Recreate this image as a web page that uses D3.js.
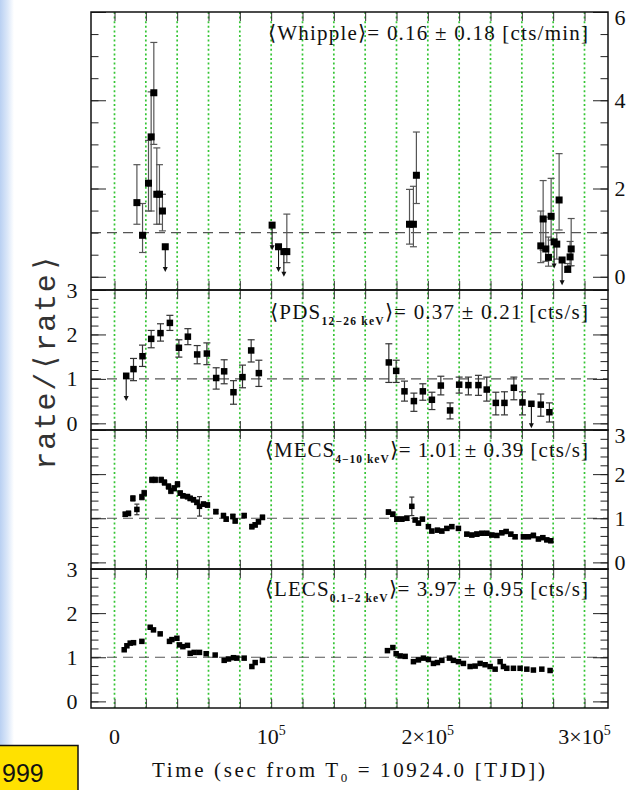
<!DOCTYPE html>
<html>
<head>
<meta charset="utf-8">
<script src="https://cdn.jsdelivr.net/npm/d3@7"></script>
<style>
  html, body { margin: 0; padding: 0; background: #fff; }
  svg { display: block; }
</style>
</head>
<body>
<svg id="chart" width="633" height="790"></svg>
<script>
// ---------------- data ----------------
// Whipple (>300 GeV) detections: time from T0 [s], rate/<rate>, lower and upper error-bar ends
const whippleTime = [14300, 17900, 21700, 23400, 25100, 27000, 28700, 30600, 110000,
  188300, 190800, 192700, 272100, 273600, 275300, 277000, 278700, 282300, 283800, 289300, 290800, 291500];
const whippleRate = [1.68, 0.94, 2.12, 3.17, 4.17, 1.87, 1.87, 1.49, 0.57,
  1.19, 1.19, 2.30, 0.70, 1.31, 0.63, 0.44, 1.37, 0.74, 1.74, 0.17, 0.45, 0.63];
const whippleLow = [1.19, 0.55, 1.49, 1.49, 3.00, 1.19, 1.19, 1.04, 0.32,
  0.74, 0.68, 1.66, 0.32, 0.60, 0.35, 0.24, 0.83, 0.40, 1.06, 0.10, 0.25, 0.25];
const whippleHigh = [2.54, 1.66, 3.09, 4.19, 5.31, 2.92, 2.54, 1.87, 1.42,
  1.98, 2.05, 3.28, 1.49, 2.18, 1.35, 0.90, 2.23, 1.00, 2.79, 0.30, 0.80, 1.32];
// Whipple upper limits: value and arrow tip
const whippleUlTime = [32400, 100600, 104700, 108100, 280600, 285700];
const whippleUlRate = [0.68, 1.17, 0.68, 0.57, 0.79, 0.38];
const whippleUlEnd  = [0.11, 0.60, 0.11, 0.00, 0.19, -0.19];

// BeppoSAX PDS 12-26 keV
const pdsTime = [12130, 17870, 23420, 29360, 35350, 41100, 46840, 52780, 58960, 64900,
  70000, 75940, 81700, 87240, 92150, 175100, 179800, 185100, 191100, 196800,
  202600, 208300, 214200, 220000, 225900, 232300, 237600, 243400, 248900, 254900,
  260400, 272100, 277600];
const pdsRate = [1.22, 1.51, 1.90, 2.03, 2.26, 1.70, 1.95, 1.55, 1.57, 1.02,
  1.17, 0.70, 1.04, 1.64, 1.13, 1.37, 1.18, 0.72, 0.50, 0.72,
  0.53, 0.85, 0.29, 0.87, 0.86, 0.86, 0.76, 0.46, 0.46, 0.80,
  0.47, 0.42, 0.25];
const pdsLow = [0.96, 1.28, 1.70, 1.85, 2.09, 1.49, 1.77, 1.34, 1.32, 0.77,
  0.89, 0.43, 0.80, 1.38, 0.83, 0.92, 0.92, 0.50, 0.27, 0.52,
  0.31, 0.64, 0.10, 0.68, 0.64, 0.63, 0.50, 0.19, 0.19, 0.53,
  0.19, 0.16, 0.03];
const pdsHigh = [1.46, 1.76, 2.09, 2.24, 2.43, 1.88, 2.13, 1.75, 1.81, 1.25,
  1.43, 0.96, 1.31, 1.88, 1.42, 1.79, 1.42, 0.95, 0.68, 0.89,
  0.70, 1.06, 0.46, 1.04, 1.04, 1.08, 1.04, 0.70, 0.71, 1.04,
  0.71, 0.66, 0.46];
const pdsUlTime = [7470, 266100];
const pdsUlRate = [1.07, 0.44];
const pdsUlEnd  = [0.50, -0.11];

// BeppoSAX MECS 4-10 keV
const mecsTime = [6830, 8940, 11740, 14290, 17480, 18950, 23860, 25970, 29800, 31910,
  34460, 35990, 38100, 40200, 41930, 43640, 46590, 48310, 50420, 52580,
  54240, 56800, 59350, 64710, 69560, 71280, 75560, 77020, 82770, 87680,
  89790, 91890, 94450,
  174860, 177670, 180220, 183410, 186600, 189790, 191900, 194000, 196550, 200380,
  202550, 206120, 208930, 212120, 215310, 219530, 224890, 228080, 231270, 234460,
  237650, 240840, 244030, 247220, 249980, 252970, 255710, 261010, 264200, 267390,
  270580, 273390, 275940, 278490];
const mecsRate = [1.09, 1.11, 1.45, 1.20, 1.48, 1.57, 1.87, 1.87, 1.87, 1.81,
  1.72, 1.62, 1.68, 1.77, 1.57, 1.51, 1.49, 1.45, 1.42, 1.36,
  1.27, 1.32, 1.30, 1.15, 1.06, 0.98, 1.04, 0.94, 1.06, 0.81,
  0.85, 0.92, 1.02,
  1.14, 1.09, 0.98, 0.98, 1.00, 1.27, 0.96, 0.89, 0.98, 0.81,
  0.71, 0.73, 0.71, 0.77, 0.81, 0.77, 0.64, 0.62, 0.64, 0.66,
  0.66, 0.62, 0.61, 0.67, 0.70, 0.64, 0.58, 0.58, 0.58, 0.61,
  0.53, 0.56, 0.51, 0.49];
const mecsErr = [0.05, 0.05, 0.06, 0.12, 0.06, 0.06, 0.06, 0.06, 0.06, 0.06,
  0.06, 0.06, 0.06, 0.06, 0.05, 0.05, 0.05, 0.05, 0.05, 0.05,
  0.22, 0.05, 0.05, 0.05, 0.05, 0.05, 0.05, 0.05, 0.05, 0.05,
  0.05, 0.05, 0.05,
  0.05, 0.05, 0.05, 0.05, 0.05, 0.21, 0.04, 0.04, 0.04, 0.04,
  0.04, 0.04, 0.04, 0.04, 0.04, 0.04, 0.04, 0.04, 0.05, 0.04,
  0.04, 0.04, 0.04, 0.04, 0.04, 0.04, 0.04, 0.04, 0.04, 0.05,
  0.04, 0.04, 0.04, 0.04];

// BeppoSAX LECS 0.1-2 keV
const lecsTime = [6190, 7910, 10020, 12150, 17480, 22780, 24890, 29160, 35100, 36630,
  39820, 41480, 43640, 46590, 48310, 50860, 54240, 58520, 64260, 70010,
  72750, 75940, 78110, 82770, 87680, 89790, 94450,
  174220, 177670, 179770, 182320, 185510, 190810, 194000, 197190, 200380, 203570,
  206120, 208930, 213780, 216340, 219530, 222720, 227000, 230190, 233380, 236570,
  239760, 242950, 246140, 248250, 250420, 254630, 258900, 263180, 267390, 272750,
  278050];
const lecsRate = [1.17, 1.26, 1.32, 1.33, 1.36, 1.68, 1.62, 1.53, 1.36, 1.40,
  1.43, 1.28, 1.24, 1.27, 1.09, 1.11, 1.11, 1.08, 1.05, 0.93,
  0.96, 0.99, 0.98, 0.98, 0.79, 0.88, 0.93,
  1.15, 1.22, 1.08, 1.03, 1.02, 0.90, 0.94, 0.98, 0.95, 0.86,
  0.88, 0.93, 0.98, 0.93, 0.90, 0.86, 0.79, 0.80, 0.86, 0.83,
  0.79, 0.73, 0.90, 0.79, 0.75, 0.75, 0.75, 0.73, 0.71, 0.73,
  0.70];

// panel annotations: band, energy range, mean count rate, spread, unit
const bandNames  = ["Whipple", "PDS", "MECS", "LECS"];
const bandRanges = ["", "12\u221226 keV", "4\u221210 keV", "0.1\u22122 keV"];
const meanRates  = ["0.16", "0.37", "1.01", "3.97"];
const meanSpread = ["0.18", "0.21", "0.39", "0.95"];
const rateUnits  = ["cts/min", "cts/s", "cts/s", "cts/s"];

// tick labels
const whippleTickLabels = [0, 2, 4, 6];
const ratioTickLabels   = [0, 1, 2, 3];
const timeTickValues    = [0, 100000, 200000, 300000];
const timeTickLabels    = ["0", "10^5", "2\u00d710^5", "3\u00d710^5"];
const gridStep = 20000;   // spacing of the dotted reference lines [s]

// ---------------- drawing ----------------
const serif = "'Liberation Serif', 'Times New Roman', serif";
const svg = d3.select("#chart");

// soft blue edge on the left
const defs = svg.append("defs");
const edge = defs.append("linearGradient").attr("id", "edge")
  .attr("x1", 0).attr("x2", 1).attr("y1", 0).attr("y2", 0);
edge.append("stop").attr("offset", "0%").attr("stop-color", "#b9d0f2");
edge.append("stop").attr("offset", "55%").attr("stop-color", "#dce8f9");
edge.append("stop").attr("offset", "100%").attr("stop-color", "#ffffff");
svg.append("rect").attr("x", 0).attr("y", 0).attr("width", 14).attr("height", 745)
  .attr("fill", "url(#edge)");

const xLeft = 91, xRight = 608;
const x = d3.scaleLinear().domain([-15000, 315000]).range([xLeft, xRight]);

const panels = [
  { top: 12,  bottom: 290, domain: [-0.3, 6],   minor: 0.5, major: 2, labels: whippleTickLabels, side: "right" },
  { top: 290, bottom: 430, domain: [-0.15, 3],  minor: 0.2, major: 1, labels: ratioTickLabels,   side: "left"  },
  { top: 430, bottom: 569, domain: [-0.15, 3],  minor: 0.2, major: 1, labels: ratioTickLabels,   side: "right" },
  { top: 569, bottom: 708, domain: [-0.15, 3],  minor: 0.2, major: 1, labels: ratioTickLabels,   side: "left"  }
];
panels.forEach(p => { p.y = d3.scaleLinear().domain(p.domain).range([p.bottom, p.top]); });

const plotTop = panels[0].top, plotBottom = panels[3].bottom;

// dotted green reference lines every 20 ks
const gridTimes = d3.range(0, 300001, gridStep);
svg.append("g").selectAll("line").data(gridTimes).join("line")
  .attr("x1", d => x(d)).attr("x2", d => x(d))
  .attr("y1", plotTop).attr("y2", plotBottom)
  .attr("stroke", "#35c535").attr("stroke-width", 1.7)
  .attr("stroke-dasharray", "2,2.6");

panels.forEach((p, i) => {
  const g = svg.append("g");
  const y = p.y;

  // dashed line at the mean rate
  g.append("line").attr("x1", xLeft).attr("x2", xRight)
    .attr("y1", y(1)).attr("y2", y(1))
    .attr("stroke", "#555").attr("stroke-width", 1.1).attr("stroke-dasharray", "10,6");

  // y ticks on both borders, pointing inward
  const minors = d3.range(0, p.domain[1] + 1e-6, p.minor).map(v => +v.toFixed(3));
  const majors = d3.range(0, p.domain[1] + 1e-6, p.major);
  const tickAxes = [
    [d3.axisRight(y), xLeft], [d3.axisLeft(y), xRight]
  ];
  tickAxes.forEach(([ax, pos]) => {
    [[minors, 7.5], [majors, 15]].forEach(([vals, len]) => {
      const a = g.append("g").attr("transform", `translate(${pos},0)`)
        .call(ax.tickValues(vals).tickSize(len).tickFormat(""));
      a.select(".domain").remove();
      a.selectAll("line").attr("stroke", "#222").attr("stroke-width", 1);
    });
  });

  // time ticks along the top and bottom of each panel
  [[d3.axisBottom(x), p.top], [d3.axisTop(x), p.bottom]].forEach(([ax, pos]) => {
    const a = g.append("g").attr("transform", `translate(0,${pos})`)
      .call(ax.tickValues(gridTimes).tickSize(9).tickFormat(""));
    a.select(".domain").remove();
    a.selectAll("line").attr("stroke", "#333").attr("stroke-width", 1);
  });

  // numeric y labels
  const lx = p.side === "left" ? 72 : 620;
  g.selectAll("text.ylab").data(p.labels).join("text")
    .attr("class", "ylab")
    .attr("x", lx)
    .attr("y", d => {
      let c = y(d);
      if (p.side === "right") c = Math.max(c, p.top + 5);
      return c + 7.5;
    })
    .attr("text-anchor", "middle")
    .attr("font-family", serif).attr("font-size", 22).attr("fill", "#111")
    .text(d => d);

  // annotation: <band_range> = mean ± spread [unit]
  const annX = [268, 270, 265, 265][i];
  const annBase = [40, 318.5, 457, 596][i];
  const annLen = [320, 318, 323, 323][i];
  const t = g.append("text").attr("x", annX).attr("y", annBase)
    .attr("font-family", serif).attr("font-size", 21).attr("fill", "#111")
    .attr("textLength", annLen).attr("lengthAdjust", "spacing");
  t.append("tspan").text("\u27e8" + bandNames[i]);
  if (bandRanges[i]) {
    t.append("tspan").attr("dy", 6).attr("font-size", 11.5).attr("font-weight", "bold")
      .text(bandRanges[i]);
    t.append("tspan").attr("dy", -6).text("\u27e9= " + meanRates[i] + " \u00b1 " + meanSpread[i] + " [" + rateUnits[i] + "]");
  } else {
    t.append("tspan").text("\u27e9= " + meanRates[i] + " \u00b1 " + meanSpread[i] + " [" + rateUnits[i] + "]");
  }
});

// panel frames
panels.forEach(p => {
  svg.append("rect").attr("x", xLeft).attr("y", p.top)
    .attr("width", xRight - xLeft).attr("height", p.bottom - p.top)
    .attr("fill", "none").attr("stroke", "#111").attr("stroke-width", 1.5);
});

// -------- series --------
function errorBars(y, times, lows, highs, color, cap) {
  const g = svg.append("g").attr("stroke", color).attr("stroke-width", 1.2).attr("fill", "none");
  times.forEach((tm, k) => {
    const cx = x(tm);
    g.append("line").attr("x1", cx).attr("x2", cx).attr("y1", y(lows[k])).attr("y2", y(highs[k]));
    g.append("line").attr("x1", cx - cap).attr("x2", cx + cap).attr("y1", y(lows[k])).attr("y2", y(lows[k]));
    g.append("line").attr("x1", cx - cap).attr("x2", cx + cap).attr("y1", y(highs[k])).attr("y2", y(highs[k]));
  });
}
function upperLimits(y, times, rates, ends) {
  const g = svg.append("g");
  times.forEach((tm, k) => {
    const cx = x(tm), y0 = y(rates[k]), y1 = y(ends[k]);
    g.append("line").attr("x1", cx).attr("x2", cx).attr("y1", y0).attr("y2", y1 - 3)
      .attr("stroke", "#111").attr("stroke-width", 1.1);
    g.append("path").attr("d", `M${cx - 2.5},${y1 - 5} L${cx + 2.5},${y1 - 5} L${cx},${y1} Z`)
      .attr("fill", "#111");
  });
}
function markers(y, times, rates, size) {
  svg.append("g").selectAll("rect").data(times).join("rect")
    .attr("x", (d) => x(d) - size / 2)
    .attr("y", (d, k) => y(rates[k]) - size / 2)
    .attr("width", size).attr("height", size)
    .attr("fill", "#000");
}

const [pW, pP, pM, pL] = panels;

errorBars(pW.y, whippleTime, whippleLow, whippleHigh, "#555", 3.5);
upperLimits(pW.y, whippleUlTime, whippleUlRate, whippleUlEnd);
markers(pW.y, whippleTime, whippleRate, 7);
markers(pW.y, whippleUlTime, whippleUlRate, 7);

errorBars(pP.y, pdsTime, pdsLow, pdsHigh, "#333", 3.5);
upperLimits(pP.y, pdsUlTime, pdsUlRate, pdsUlEnd);
markers(pP.y, pdsTime, pdsRate, 6.5);
markers(pP.y, pdsUlTime, pdsUlRate, 6.5);

errorBars(pM.y, mecsTime, mecsRate.map((r, k) => r - mecsErr[k]), mecsRate.map((r, k) => r + mecsErr[k]), "#333", 2.5);
markers(pM.y, mecsTime, mecsRate, 5.5);

markers(pL.y, lecsTime, lecsRate, 5.5);

// -------- axis texts --------
// bottom time labels with superscript exponents
const xl = svg.append("g");
timeTickValues.forEach((v, k) => {
  const parts = timeTickLabels[k].split("^");
  const t = xl.append("text").attr("x", x(v)).attr("y", 744)
    .attr("text-anchor", "middle")
    .attr("font-family", serif).attr("font-size", 22).attr("fill", "#111");
  t.append("tspan").text(parts[0]);
  if (parts[1]) t.append("tspan").attr("dy", -9).attr("font-size", 14).text(parts[1]);
});

// x title
const xt = svg.append("text").attr("x", 152).attr("y", 777)
  .attr("font-family", serif).attr("font-size", 21).attr("fill", "#111")
  .attr("textLength", 393).attr("lengthAdjust", "spacing");
xt.append("tspan").text("Time (sec from T");
xt.append("tspan").attr("dy", 5).attr("font-size", 13).text("0");
xt.append("tspan").attr("dy", -5).text(" = 10924.0 [TJD])");

// y title
svg.append("text")
  .attr("transform", "translate(55,362) rotate(-90)")
  .attr("text-anchor", "middle")
  .attr("font-family", "'Liberation Mono', 'Courier New', monospace")
  .attr("font-size", 30).attr("fill", "#333")
  .attr("textLength", 215).attr("lengthAdjust", "spacing")
  .text("rate/\u27e8rate\u27e9");

// year tag at the lower left
const tag = svg.append("g");
tag.append("rect").attr("x", -2).attr("y", 745.5).attr("width", 80).attr("height", 50)
  .attr("fill", "#ffe100").attr("stroke", "#111").attr("stroke-width", 1.5);
tag.append("text").attr("x", 2).attr("y", 782).attr("text-anchor", "start")
  .attr("font-family", "'Liberation Sans', Arial, sans-serif").attr("font-size", 25)
  .attr("fill", "#111").text("999");
</script>
</body>
</html>
